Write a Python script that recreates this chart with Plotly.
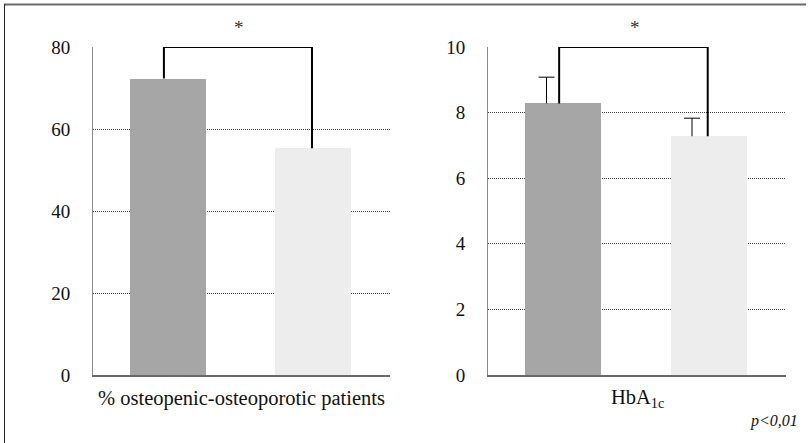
import plotly.graph_objects as go

# ---- data ----
groups = [0, 1]
osteo_pct = [72.3, 55.3]
hba1c = [8.28, 7.28]
hba1c_err = [0.80, 0.55]
bar_colors = ["#a6a6a6", "#ededed"]
left_title = "% osteopenic-osteoporotic patients"
right_title = "HbA<sub>1c</sub>"
left_ticks = [0, 20, 40, 60, 80]
right_ticks = [0, 2, 4, 6, 8, 10]
left_bracket_top = 80
right_bracket_top = 10
sig_mark = "*"
pval = "<i>p&lt;0,01</i>"

W, H = 808, 443
FONT = "Liberation Serif"

fig = go.Figure()

# bars
fig.add_trace(go.Bar(x=groups, y=osteo_pct, marker=dict(color=bar_colors, line=dict(width=0)),
                     width=0.524, xaxis="x", yaxis="y", showlegend=False, hoverinfo="skip"))
fig.add_trace(go.Bar(x=groups, y=hba1c, marker=dict(color=bar_colors, line=dict(width=0)),
                     width=0.524, xaxis="x2", yaxis="y2", showlegend=False, hoverinfo="skip"))

# upper error bars, slightly left of bar centers (stem + top cap)
err_off = -0.115
cap_half = 0.055
ex, ey = [], []
for g, v, e in zip(groups, hba1c, hba1c_err):
    xc = g + err_off
    ex += [xc, xc, None, xc - cap_half, xc + cap_half, None]
    ey += [v, v + e, None, v + e, v + e, None]
fig.add_trace(go.Scatter(x=ex, y=ey, mode="lines", line=dict(color="black", width=1),
                         xaxis="x2", yaxis="y2", showlegend=False, hoverinfo="skip",
                         cliponaxis=False))

# significance brackets
def bracket(vals, top, xa, ya):
    xs = [groups[0] - 0.028, groups[0] - 0.028, groups[1] - 0.007, groups[1] - 0.007]
    ys = [vals[0], top, top, vals[1]]
    fig.add_trace(go.Scatter(x=xs, y=ys, mode="lines", line=dict(color="black", width=2),
                             xaxis=xa, yaxis=ya, showlegend=False, hoverinfo="skip",
                             cliponaxis=False))

bracket(osteo_pct, left_bracket_top, "x", "y")
bracket(hba1c, right_bracket_top, "x2", "y2")

ydom = [1 - 375 / H, 1 - 47 / H]
xrange = [-0.517, 1.531]

common_x = dict(range=xrange, showticklabels=False, ticks="", showgrid=False, zeroline=False,
                showline=True, linecolor="#6a6a6a", linewidth=1.5, fixedrange=True,
                automargin=False)
common_y = dict(showline=True, linecolor="#8a8a8a", linewidth=1, showgrid=True,
                gridcolor="#444", griddash="1px,1px", gridwidth=1, zeroline=False,
                ticks="", ticklabelstandoff=18, automargin=False,
                tickfont=dict(family=FONT, size=19, color="#111"))

fig.update_layout(
    template="none",
    width=W, height=H,
    margin=dict(l=0, r=0, t=0, b=0, autoexpand=False),
    paper_bgcolor="white", plot_bgcolor="white",
    font=dict(family=FONT, color="#111", size=18),
    bargap=0,
    xaxis=dict(domain=[93 / W, 390 / W], anchor="y", **common_x),
    yaxis=dict(domain=ydom, range=[0, 80], tickvals=left_ticks, anchor="x", **common_y),
    xaxis2=dict(domain=[488 / W, 786 / W], anchor="y2", **common_x),
    yaxis2=dict(domain=ydom, range=[0, 10], tickvals=right_ticks, anchor="x2", **common_y),
    annotations=[
        dict(text=left_title, xref="x domain", yref="paper", x=0.5, y=1 - 398 / H,
             showarrow=False, font=dict(family=FONT, size=20.5, color="#111"), yanchor="middle"),
        dict(text=right_title, xref="x2 domain", yref="paper", x=0.5, y=1 - 398 / H,
             showarrow=False, font=dict(family=FONT, size=20.5, color="#111"), yanchor="middle"),
        dict(text=sig_mark, xref="x", yref="paper", x=0.49, y=1 - 28 / H,
             showarrow=False, font=dict(family=FONT, size=19, color="#333"), yanchor="middle"),
        dict(text=sig_mark, xref="x2", yref="paper", x=0.49, y=1 - 28 / H,
             showarrow=False, font=dict(family=FONT, size=19, color="#333"), yanchor="middle"),
        dict(text=pval, xref="paper", yref="paper", x=800 / W, y=1 - 421 / H,
             xanchor="right", yanchor="middle", showarrow=False,
             font=dict(family=FONT, size=16, color="#111")),
    ],
    shapes=[
        dict(type="line", xref="paper", yref="paper", x0=4 / W, x1=806 / W,
             y0=1 - 4.5 / H, y1=1 - 4.5 / H, line=dict(color="#6a6a6a", width=2)),
        dict(type="line", xref="paper", yref="paper", x0=4.5 / W, x1=4.5 / W,
             y0=0, y1=1 - 4 / H, line=dict(color="#222", width=1)),
    ],
)

fig.write_html("out.html")
